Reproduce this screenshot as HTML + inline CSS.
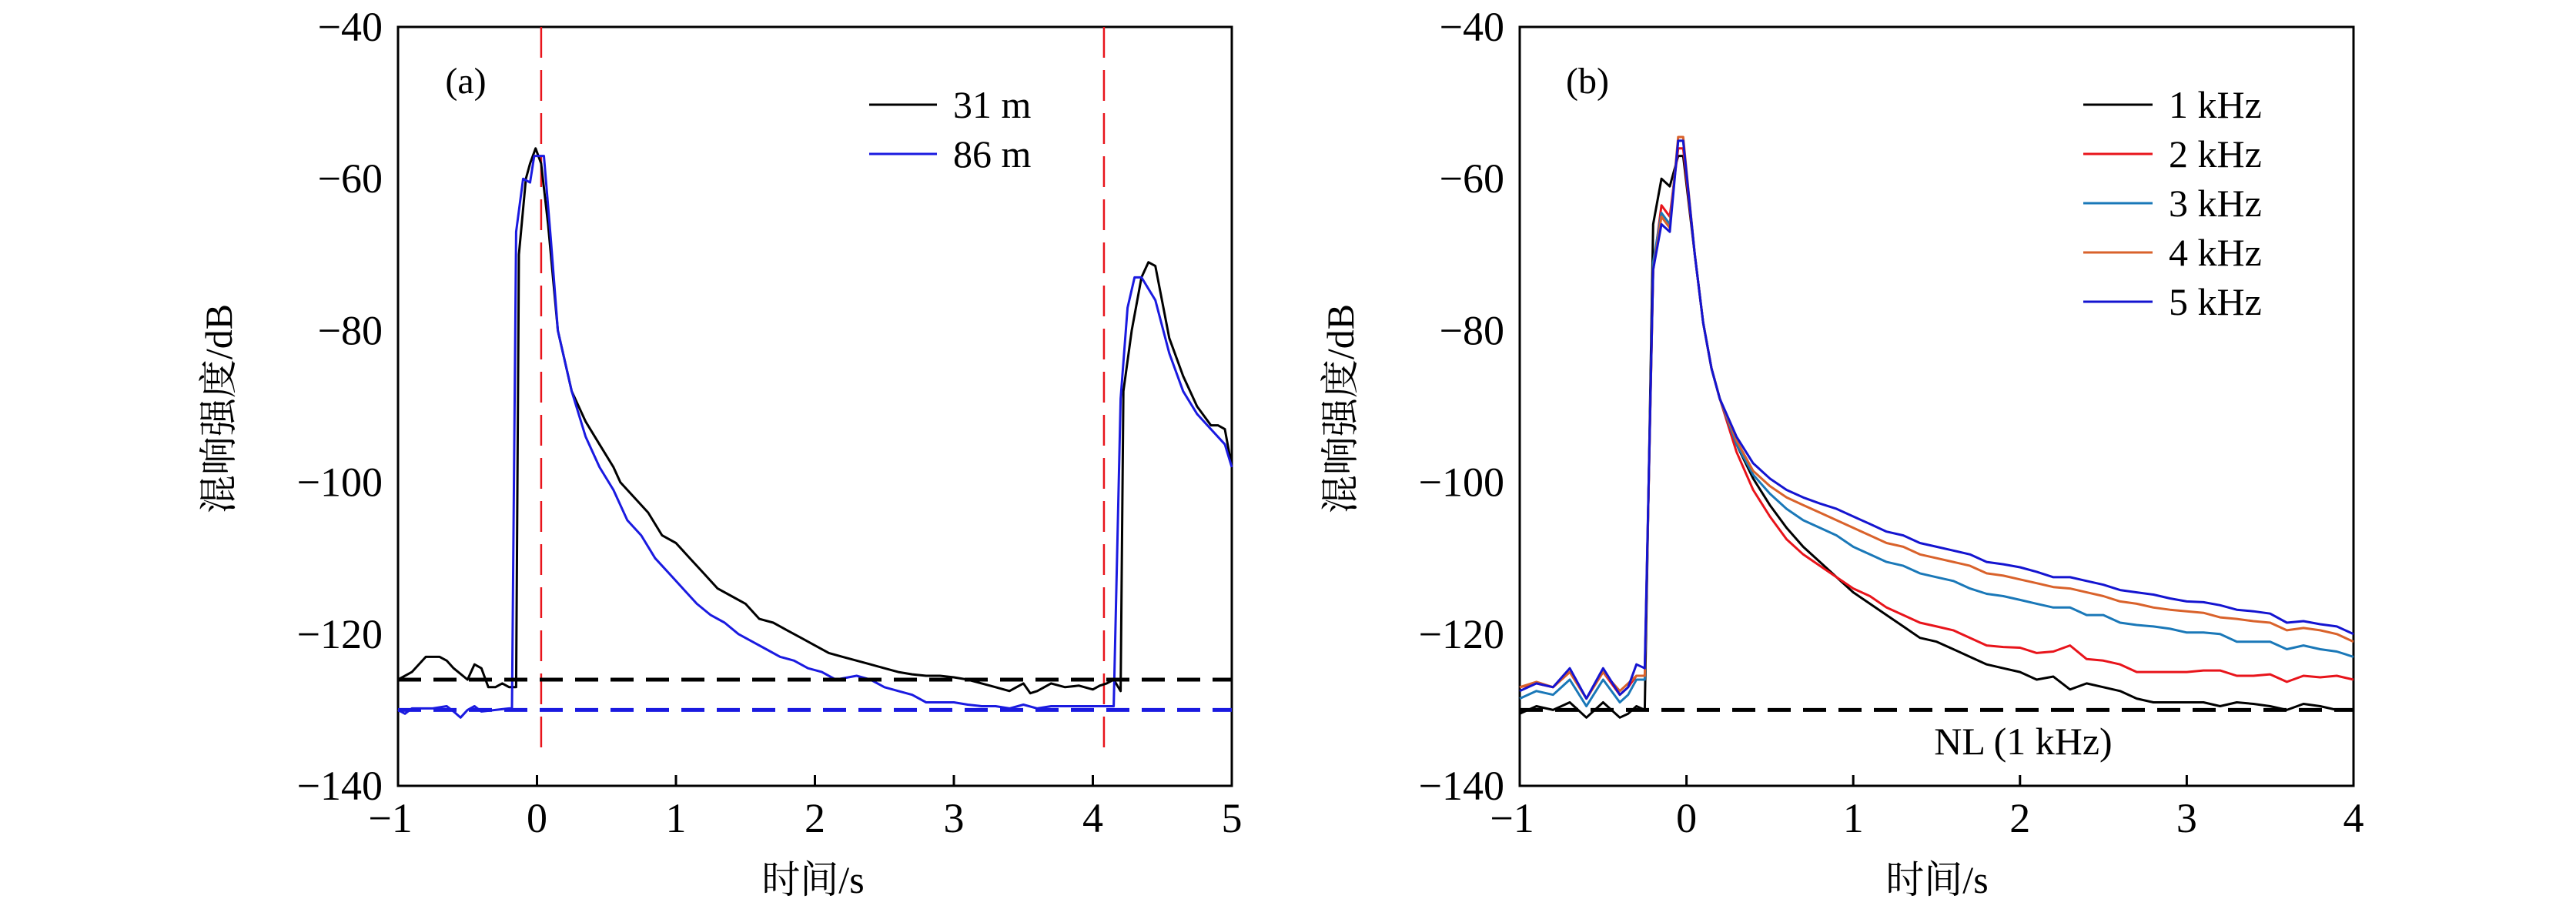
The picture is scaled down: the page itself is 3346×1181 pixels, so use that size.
<!DOCTYPE html>
<html><head><meta charset="utf-8"><style>
html,body{margin:0;padding:0;background:#fff;}
svg{display:block;}
text{font-family:"Liberation Serif","Noto Serif CJK SC",serif;fill:#000;}
</style></head><body>
<svg id="chart" width="3346" height="1181" viewBox="0 0 3346 1181" xmlns="http://www.w3.org/2000/svg">
<rect width="3346" height="1181" fill="#fff"/>
<g id="pa"></g>
<g id="pb"></g>
</svg>
<script>
// ---- Panel (a) data ----
const aX31 = [-1,-0.9,-0.8,-0.7,-0.65,-0.6,-0.5,-0.45,-0.4,-0.35,-0.3,-0.25,-0.2,-0.15,-0.13,-0.08,-0.05,-0.01,0.03,0.08,0.15,0.25,0.35,0.45,0.55,0.6,0.7,0.8,0.9,1,1.1,1.2,1.3,1.4,1.5,1.6,1.7,1.8,1.9,2.0,2.1,2.2,2.3,2.4,2.5,2.6,2.7,2.8,2.9,3.0,3.1,3.2,3.3,3.4,3.5,3.55,3.6,3.7,3.8,3.9,4.0,4.05,4.1,4.15,4.2,4.22,4.28,4.35,4.4,4.45,4.55,4.65,4.75,4.85,4.9,4.95,5];
const aY31 = [-126,-125,-123,-123,-123.5,-124.5,-126,-124,-124.5,-127,-127,-126.5,-127,-127,-70,-60,-58,-56,-58,-66,-80,-88,-92,-95,-98,-100,-102,-104,-107,-108,-110,-112,-114,-115,-116,-118,-118.5,-119.5,-120.5,-121.5,-122.5,-123,-123.5,-124,-124.5,-125,-125.3,-125.5,-125.5,-125.7,-126,-126.5,-127,-127.5,-126.5,-127.8,-127.5,-126.5,-127,-126.8,-127.3,-126.8,-126.5,-126,-127.5,-88,-80,-73,-71,-71.5,-81,-86,-90,-92.5,-92.5,-93,-98];
const aX86 = [-1,-0.95,-0.9,-0.8,-0.75,-0.65,-0.6,-0.55,-0.5,-0.45,-0.4,-0.3,-0.2,-0.18,-0.15,-0.1,-0.05,-0.02,0.05,0.1,0.15,0.25,0.35,0.45,0.55,0.65,0.75,0.85,0.95,1.05,1.15,1.25,1.35,1.45,1.55,1.65,1.75,1.85,1.95,2.05,2.15,2.3,2.4,2.5,2.6,2.7,2.8,2.9,3.0,3.1,3.2,3.3,3.4,3.5,3.6,3.7,3.8,3.9,4.0,4.1,4.15,4.2,4.25,4.3,4.35,4.45,4.55,4.65,4.75,4.85,4.95,5];
const aY86 = [-130,-130.5,-129.8,-129.8,-129.8,-129.5,-130.2,-131,-130,-129.5,-130.2,-130,-129.8,-129.8,-67,-60,-60.5,-57,-57,-68,-80,-88,-94,-98,-101,-105,-107,-110,-112,-114,-116,-117.5,-118.5,-120,-121,-122,-123,-123.5,-124.5,-125,-126,-125.5,-126,-127,-127.5,-128,-129,-129,-129,-129.3,-129.5,-129.5,-129.8,-129.3,-129.8,-129.5,-129.5,-129.5,-129.5,-129.5,-129.5,-89,-77,-73,-73,-76,-83,-88,-91,-93,-95,-98];
const aNoise = [-126, -130];
const aMarkers = [0.03, 4.08];
const aXTicks = [-1,0,1,2,3,4,5];
// ---- Panel (b) data ----
const bX = [-1,-0.9,-0.8,-0.7,-0.6,-0.5,-0.4,-0.35,-0.3,-0.25,-0.2,-0.15,-0.1,-0.05,-0.02,0.05,0.1,0.15,0.2,0.3,0.4,0.5,0.6,0.7,0.8,0.9,1.0,1.1,1.2,1.3,1.4,1.5,1.6,1.7,1.8,1.9,2.0,2.1,2.2,2.3,2.4,2.5,2.6,2.7,2.8,2.9,3.0,3.1,3.2,3.3,3.4,3.5,3.6,3.7,3.8,3.9,4.0];
const b1k = [-130.5,-129.5,-130,-129,-131,-129,-131,-130.5,-129.5,-130,-66,-60,-61,-57,-57,-70,-79,-85,-89,-95,-99.5,-103,-106,-108.5,-110.5,-112.5,-114.5,-116,-117.5,-119,-120.5,-121,-122,-123,-124,-124.5,-125,-126,-125.6,-127.3,-126.5,-127,-127.5,-128.5,-129,-129,-129,-129,-129.5,-129,-129.2,-129.5,-130,-129.2,-129.5,-130,-130];
const b2k = [-127,-126.5,-127,-125,-128.5,-125,-128,-127,-125.5,-125.5,-72,-63.5,-65,-56,-56,-70,-79,-85,-89,-96,-101,-104.5,-107.5,-109.5,-111,-112.5,-114,-115,-116.5,-117.5,-118.5,-119,-119.5,-120.5,-121.5,-121.7,-121.8,-122.5,-122.3,-121.5,-123.3,-123.5,-124,-125,-125,-125,-125,-124.8,-124.8,-125.5,-125.5,-125.3,-126.3,-125.5,-125.7,-125.5,-126];
const b3k = [-128.5,-127.5,-128,-126,-129.5,-126,-129,-128,-126,-126,-71,-64.5,-66,-55,-55,-70,-79,-85,-89,-95,-99,-101.5,-103.5,-105,-106,-107,-108.5,-109.5,-110.5,-111,-112,-112.5,-113,-114,-114.7,-115,-115.5,-116,-116.5,-116.5,-117.5,-117.5,-118.5,-118.8,-119,-119.3,-119.8,-119.8,-120,-121,-121,-121,-122,-121.5,-122,-122.3,-123];
const b4k = [-127,-126.3,-127,-125,-128.5,-125,-127.5,-126.5,-125.5,-125.5,-72,-65,-66.5,-54.5,-54.5,-70,-79,-85,-89,-94.5,-98.5,-100.5,-102,-103,-104,-105,-106,-107,-108,-108.5,-109.5,-110,-110.5,-111,-112,-112.3,-112.8,-113.3,-113.8,-114,-114.5,-115,-115.7,-116,-116.5,-116.8,-117,-117.2,-117.8,-118,-118.3,-118.5,-119.5,-119.2,-119.5,-120,-121];
const b5k = [-127.5,-126.5,-127,-124.5,-128.5,-124.5,-128,-127,-124,-124.5,-72,-66,-67,-55,-55,-70,-79,-85,-89,-94,-97.5,-99.5,-101,-102,-102.8,-103.5,-104.5,-105.5,-106.5,-107,-108,-108.5,-109,-109.5,-110.5,-110.8,-111.2,-111.8,-112.5,-112.5,-113,-113.5,-114.2,-114.5,-114.8,-115.3,-115.7,-115.8,-116.2,-116.8,-117,-117.3,-118.5,-118.3,-118.7,-119,-120];
const bNoise = -130;
const bXTicks = [-1,0,1,2,3,4];
const yTicks = [-40,-60,-80,-100,-120,-140];

const NS = 'http://www.w3.org/2000/svg';
function mk(parent, tag, attrs, txt){
  const e = document.createElementNS(NS, tag);
  for (const k in attrs) e.setAttribute(k, attrs[k]);
  if (txt !== undefined) e.textContent = txt;
  parent.appendChild(e); return e;
}
const TOP = 35, BOT = 1021;
function yS(v){ return TOP + (-40 - v) / 100 * (BOT - TOP); }
function fmt(v){ return v < 0 ? '\u2212' + Math.abs(v) : String(v); }

function drawPanel(g, L, R, xmin, xmax, xticks, cx, letter){
  const xS = v => L + (v - xmin) / (xmax - xmin) * (R - L);
  const frame = mk(g, 'rect', {x:L, y:TOP, width:R-L, height:BOT-TOP, fill:'none', stroke:'#000', 'stroke-width':3});
  
  
  xticks.forEach(t => {
    const tk = mk(g, 'line', {x1:xS(t), x2:xS(t), y1:BOT, y2:BOT-14, stroke:'#000', 'stroke-width':3});
    
    
    const tl = mk(g, 'text', {x:xS(t) - (t<0?10:0), y:BOT+60, 'font-size':54, 'text-anchor':'middle'}, fmt(t));
    
    
  });
  yTicks.forEach(t => {
    const tl = mk(g, 'text', {x:L-20, y:yS(t)+18, 'font-size':54, 'text-anchor':'end'}, fmt(t));
    
    
  });
  const xt = mk(g, 'text', {x:cx, y:1160, 'font-size':50, 'text-anchor':'middle'}, '时间/s');
  
  
  const ylx = L - 216;
  const yt = mk(g, 'text', {x:ylx, y:531, 'font-size':50, 'text-anchor':'middle', transform:'rotate(-90 '+ylx+' 531)'}, '混响强度/dB');
  
  
  const pl = mk(g, 'text', {x:L+88, y:121, 'font-size':48, 'text-anchor':'middle'}, letter);
  
  
  return xS;
}
function series(g, xS, xs, ys, color, name){
  const d = xs.map((x,i) => (i?'L':'M') + xS(x).toFixed(1) + ' ' + yS(ys[i]).toFixed(1)).join(' ');
  const p = mk(g, 'path', {d:d, fill:'none', stroke:color, 'stroke-width':3, 'stroke-linejoin':'round'});
  
  
}
function legend(g, x1, x2, tx, y, color, label, name){
  const lg = mk(g, 'g', {});
  
  
  mk(lg, 'line', {x1:x1, x2:x2, y1:y, y2:y, stroke:color, 'stroke-width':3});
  mk(lg, 'text', {x:tx, y:y+17, 'font-size':50}, label);
}

// Panel a
const ga = document.getElementById('pa');
const xa = drawPanel(ga, 517, 1600, -1, 5, aXTicks, 1056, '(a)');
aMarkers.forEach(m => {
  const l = mk(ga, 'line', {x1:xa(m), x2:xa(m), y1:TOP, y2:yS(-135.5), stroke:'#e8141b', 'stroke-width':2.5, 'stroke-dasharray':'40 16'});
  
  
});
series(ga, xa, aX31, aY31, '#000', 'series-31m');
series(ga, xa, aX86, aY86, '#1a1ae0', 'series-86m');
['#000','#1a1ae0'].forEach((c,i) => {
  const l = mk(ga, 'line', {x1:517, x2:1600, y1:yS(aNoise[i]), y2:yS(aNoise[i]), stroke:c, 'stroke-width':5, 'stroke-dasharray':'30 16'});
  
  
});
legend(ga, 1129, 1217, 1238, 136, '#000', '31 m', 'legend-entry-31m');
legend(ga, 1129, 1217, 1238, 200, '#1a1ae0', '86 m', 'legend-entry-86m');

// Panel b
const gb = document.getElementById('pb');
const xb = drawPanel(gb, 1974, 3057, -1, 4, bXTicks, 2516, '(b)');
const bSeries = [[b1k,'#000','1 kHz'],[b2k,'#e8141b','2 kHz'],[b3k,'#1a78b8','3 kHz'],[b4k,'#d9622b','4 kHz'],[b5k,'#1414d0','5 kHz']];
bSeries.forEach((s,i) => {
  series(gb, xb, bX, s[0], s[1], 'series-' + (i+1) + 'khz');
  legend(gb, 2706, 2796, 2817, 136 + i*64, s[1], s[2], 'legend-entry-' + (i+1) + 'khz');
});
const nl = mk(gb, 'line', {x1:1974, x2:3057, y1:yS(bNoise), y2:yS(bNoise), stroke:'#000', 'stroke-width':5, 'stroke-dasharray':'30 16'});


const nlt = mk(gb, 'text', {x:2628, y:980, 'font-size':50, 'text-anchor':'middle'}, 'NL (1 kHz)');


</script>
</body></html>
